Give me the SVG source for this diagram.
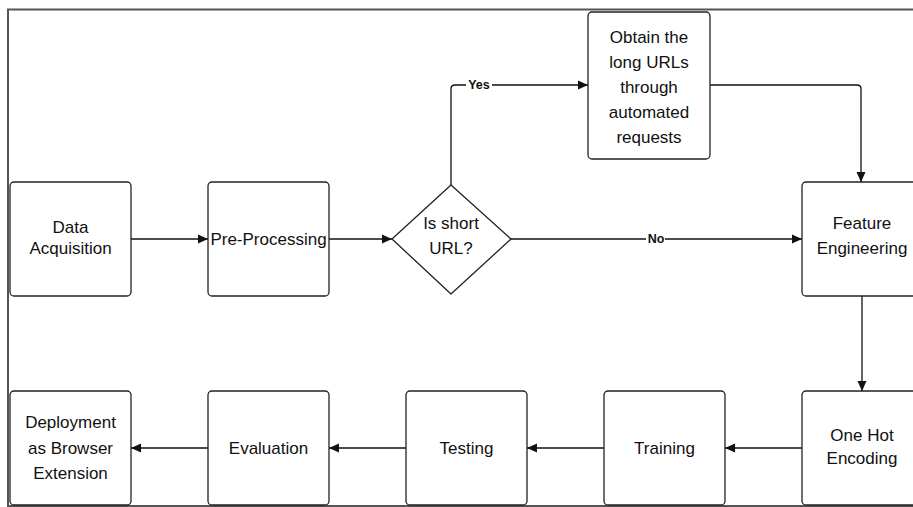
<svg xmlns="http://www.w3.org/2000/svg" width="913" height="507" viewBox="0 0 913 507">
<defs>
<style>
.box{fill:#fff;stroke:#222;stroke-width:1.3}
.t{font-family:"Liberation Sans",Arial,sans-serif;font-size:17px;fill:#111;text-anchor:middle}
.lbl{font-family:"Liberation Sans",Arial,sans-serif;font-size:12.5px;font-weight:bold;fill:#111;text-anchor:middle}
.c{fill:none;stroke:#111;stroke-width:1.3}
.frame{fill:none;stroke:#555;stroke-width:2}
</style>
<marker id="ah" viewBox="0 0 10 10" refX="10" refY="5" markerWidth="10" markerHeight="10" markerUnits="userSpaceOnUse" orient="auto">
<path d="M0,0.5 L10,5 L0,9.5 Z" fill="#111"/>
</marker>
</defs>
<rect width="913" height="507" fill="#fff"/>
<path class="frame" d="M913,9.5 H8 V506 H913"/>

<g id="connectors">
<line class="c" x1="131" y1="239" x2="208" y2="239" marker-end="url(#ah)"/>
<line class="c" x1="329" y1="239" x2="392" y2="239" marker-end="url(#ah)"/>
<line class="c" x1="511" y1="239" x2="802" y2="239" stroke-width="2" marker-end="url(#ah)"/>
<path class="c" d="M451,185 V89 Q451,85 455,85 H588" marker-end="url(#ah)"/>
<path class="c" d="M710,85 H857 Q861,85 861,89 V182" marker-end="url(#ah)"/>
<line class="c" x1="862" y1="296" x2="862" y2="391" marker-end="url(#ah)"/>
<line class="c" x1="802" y1="448" x2="725" y2="448" marker-end="url(#ah)"/>
<line class="c" x1="604" y1="448" x2="527" y2="448" marker-end="url(#ah)"/>
<line class="c" x1="406" y1="448" x2="329" y2="448" marker-end="url(#ah)"/>
<line class="c" x1="208" y1="448" x2="131" y2="448" marker-end="url(#ah)"/>
<rect x="466" y="78" width="26" height="13" fill="#fff"/>
<text class="lbl" x="479" y="89">Yes</text>
<rect x="646" y="231" width="19" height="14" fill="#fff"/>
<text class="lbl" x="656" y="243">No</text>
</g>

<g id="data-acquisition">
<rect class="box" x="10" y="182" width="121" height="114" rx="4"/>
<text class="t" x="70.5" y="233">Data</text>
<text class="t" x="70.5" y="254">Acquisition</text>
</g>
<g id="pre-processing">
<rect class="box" x="208" y="182" width="121" height="114" rx="4"/>
<text class="t" x="268.5" y="245">Pre-Processing</text>
</g>
<g id="is-short-url">
<path class="box" d="M451,185 L511,239 L451,294 L392,239 Z" stroke-linejoin="round"/>
<text class="t" x="451" y="229">Is short</text>
<text class="t" x="451" y="254">URL?</text>
</g>
<g id="obtain-long-urls">
<rect class="box" x="588" y="12" width="122" height="147" rx="4"/>
<text class="t" x="649" y="43">Obtain the</text>
<text class="t" x="649" y="68">long URLs</text>
<text class="t" x="649" y="93">through</text>
<text class="t" x="649" y="118">automated</text>
<text class="t" x="649" y="143">requests</text>
</g>
<g id="feature-engineering">
<rect class="box" x="802" y="182" width="121" height="114" rx="4"/>
<text class="t" x="862" y="229">Feature</text>
<text class="t" x="862" y="254">Engineering</text>
</g>
<g id="one-hot-encoding">
<rect class="box" x="802" y="391" width="121" height="114" rx="4"/>
<text class="t" x="862" y="441">One Hot</text>
<text class="t" x="862" y="464">Encoding</text>
</g>
<g id="training">
<rect class="box" x="604" y="391" width="121" height="114" rx="4"/>
<text class="t" x="664.5" y="454">Training</text>
</g>
<g id="testing">
<rect class="box" x="406" y="391" width="121" height="114" rx="4"/>
<text class="t" x="466.5" y="454">Testing</text>
</g>
<g id="evaluation">
<rect class="box" x="208" y="391" width="121" height="114" rx="4"/>
<text class="t" x="268.5" y="454">Evaluation</text>
</g>
<g id="deployment">
<rect class="box" x="10" y="391" width="121" height="114" rx="4"/>
<text class="t" x="70.5" y="428">Deployment</text>
<text class="t" x="70.5" y="454">as Browser</text>
<text class="t" x="70.5" y="479">Extension</text>
</g>
</svg>
